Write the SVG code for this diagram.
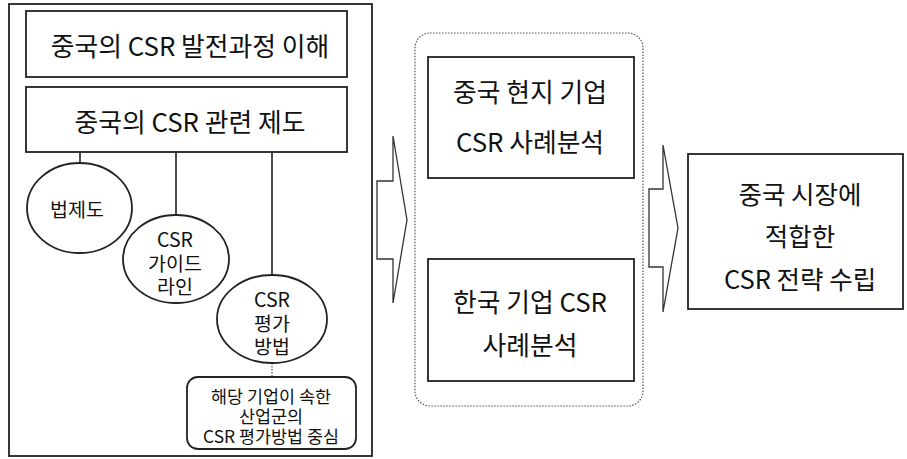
<svg xmlns="http://www.w3.org/2000/svg" width="907" height="459" viewBox="0 0 907 459">
<style>
.box{fill:#fff;stroke:#222;stroke-width:1.8}
.ln{fill:none;stroke:#222;stroke-width:1.6}
.dot{fill:none;stroke:#555;stroke-width:1.2;stroke-dasharray:1.5 1.5}
.arr{fill:#fff;stroke:#333;stroke-width:1.3}
text{font-family:"Malgun Gothic","Noto Sans CJK KR","Noto Sans",sans-serif;fill:#111;text-anchor:middle;dominant-baseline:central}
.t26{font-size:25.8px}
.t25{font-size:25.5px}
.t19{font-size:19.5px}
.t17{font-size:17.4px}
</style>
<rect width="907" height="459" fill="#fff"/>
<g id="outer-left"><rect class="box" x="9" y="4" width="363" height="452"/></g>
<g id="connectors">
<line class="ln" x1="80" y1="152" x2="80" y2="163"/>
<line class="ln" x1="176" y1="152" x2="176" y2="215"/>
<line class="ln" x1="272" y1="138" x2="272" y2="275"/>
<line class="dot" x1="272" y1="363" x2="272" y2="377"/>
<polygon class="arr" points="377,181 393,181 393,136 407,220 393,303 393,259 377,259"/>
<polygon class="arr" points="649,189 663,189 663,145 678,228 663,312 663,267 649,267"/>
</g>
<g id="n-history"><rect class="box" x="26" y="11" width="321" height="66"/><text class="t26" x="190" y="44">중국의 CSR 발전과정 이해</text></g>
<g id="n-system"><rect class="box" x="26" y="87" width="321" height="65"/><text class="t26" x="190" y="120">중국의 CSR 관련 제도</text></g>
<g id="n-law"><ellipse class="box" cx="79.5" cy="208" rx="52.5" ry="45"/><text class="t19" x="77" y="208">법제도</text></g>
<g id="n-guide"><ellipse class="box" cx="176" cy="259" rx="53" ry="44"/><text class="t19" x="175" y="238">CSR</text><text class="t19" x="175" y="262">가이드</text><text class="t19" x="175" y="285">라인</text></g>
<g id="n-eval"><ellipse class="box" cx="272" cy="319" rx="55" ry="44"/><text class="t19" x="272" y="298">CSR</text><text class="t19" x="272" y="322">평가</text><text class="t19" x="272" y="345">방법</text></g>
<g id="n-focus"><rect class="box" x="187" y="377" width="169" height="72" rx="11"/><text class="t17" x="271" y="395">해당 기업이 속한</text><text class="t17" x="271" y="415">산업군의</text><text class="t17" x="271" y="435">CSR 평가방법 중심</text></g>
<g id="middle-group"><rect class="dot" x="415" y="33" width="228" height="373" rx="15"/></g>
<g id="n-china-case"><rect class="box" x="428" y="57" width="206" height="121"/><text class="t26" x="530" y="90">중국 현지 기업</text><text class="t26" x="530" y="140">CSR 사례분석</text></g>
<g id="n-korea-case"><rect class="box" x="428" y="259" width="206" height="122"/><text class="t26" x="530" y="300">한국 기업 CSR</text><text class="t26" x="530" y="343">사례분석</text></g>
<g id="n-strategy"><rect class="box" x="688" y="154" width="215" height="155"/><text class="t25" x="800" y="192">중국 시장에</text><text class="t25" x="800" y="234">적합한</text><text class="t25" x="800" y="277">CSR 전략 수립</text></g>
</svg>
